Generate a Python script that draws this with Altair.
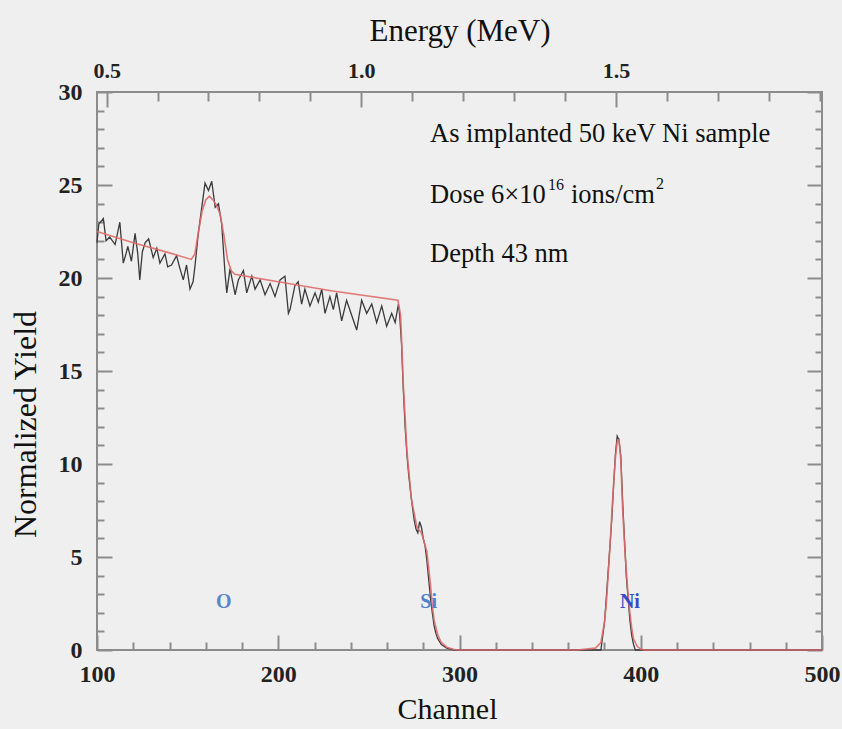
import altair as alt
import pandas as pd

# ---------------- data ----------------
black_ch = [100, 101, 103.5, 105, 107, 110, 112.6, 114.5, 116, 117, 119, 121, 122.5, 123.6, 125,
            126.6, 128.5, 131, 133, 134.7, 137.5, 139, 141.1, 143.9, 145.5, 147.6, 149.4, 151.3,
            153, 154, 155.9, 157.8, 159.6, 161.5, 163.3, 165.2, 167, 168.8, 170.6, 171.6, 173.4,
            176.2, 178, 180.8, 182.6, 185.4, 187.2, 190, 192.7, 195.5, 198.2, 201, 203.7, 205.6,
            206.5, 209.2, 211, 212.9, 214.7, 217.5, 220.3, 222.1, 224, 225.8, 228.5, 230.4, 232.2,
            235, 237.7, 240.5, 243.3, 246, 248.8, 251.6, 254.3, 257.1, 259.8, 262.6, 264.5, 266.3,
            267, 268, 269, 270, 271, 272, 273, 274, 275, 276, 277, 278, 279, 280, 281, 282, 283,
            284, 285, 286, 287, 288, 290, 293, 297, 320, 350, 378, 380, 381, 382, 383, 384, 385,
            386, 387, 388, 389, 390, 391, 392, 393, 394, 395, 396, 397, 420, 500]
black_y = [21.9, 22.9, 23.2, 22.0, 22.2, 21.8, 23.0, 20.8, 21.3, 21.7, 20.9, 22.4, 21.3, 19.9, 21.4,
           21.9, 22.1, 21.1, 21.6, 20.8, 21.3, 20.6, 20.7, 21.2, 20.6, 19.9, 20.7, 19.4,
           19.8, 20.6, 22.4, 23.8, 25.1, 24.7, 25.2, 23.8, 24.0, 22.9, 20.3, 19.2, 20.5,
           19.1, 19.9, 20.4, 19.2, 20.1, 19.4, 19.9, 19.1, 19.7, 19.0, 19.9, 20.1, 18.1,
           18.3, 19.6, 19.8, 18.6, 19.4, 18.5, 19.2, 18.7, 19.4, 18.1, 19.0, 18.3, 19.2,
           17.7, 18.8, 18.0, 17.2, 18.8, 18.1, 18.6, 17.6, 18.5, 17.4, 18.1, 17.6, 18.6,
           18.0, 16.5, 14.0, 12.0, 10.5, 9.4, 8.5, 7.7, 7.0, 6.5, 6.3, 6.9, 6.6, 6.0, 5.6, 4.8, 3.8,
           2.8, 2.0, 1.3, 0.9, 0.6, 0.3, 0.1, 0.0, 0.0, 0.0, 0.0, 1.5, 2.8, 4.2, 5.6, 7.0, 8.8,
           10.5, 11.5, 11.3, 10.4, 8.0, 6.0, 4.0, 2.8, 1.6, 0.8, 0.3, 0.0, 0.0, 0.0]

fit_ch = [100, 120, 140, 152, 154, 156, 158, 160, 162, 164, 166, 168, 170, 172, 174, 176, 200, 230,
          266, 267.5, 269, 271, 273.5, 276.5, 279, 282, 284, 285, 286, 288, 290, 293, 297, 300,
          365, 370, 375, 378, 380, 381, 382, 383, 384, 385, 386, 387, 388, 389, 390, 391, 392,
          393, 394, 395, 396, 398, 400, 402, 500]
fit_y = [22.5, 21.9, 21.35, 21.0, 21.3, 22.5, 23.6, 24.2, 24.4, 24.2, 23.9, 23.4, 22.3, 21.0, 20.4,
         20.2, 19.8, 19.3, 18.8, 18.0, 14.3, 10.7, 8.1, 6.6, 6.3, 5.3, 3.5, 2.4, 1.6, 0.8, 0.4,
         0.15, 0.03, 0.0, 0.0, 0.05, 0.1, 0.4, 1.5, 2.5, 4.0, 5.5, 7.3, 8.9, 10.3, 11.2, 11.3,
         10.2, 7.6, 5.8, 4.3, 3.0, 2.0, 1.2, 0.6, 0.2, 0.05, 0.0, 0.0]

elem_labels = ["O", "Si", "Ni"]
elem_ch = [170, 283, 394]
elem_y = [2.6, 2.6, 2.6]
elem_colors = ["#5b86c9", "#4f7fcf", "#3a4bc6"]

chan_domain = [100, 500]
chan_label_ticks = [100, 200, 300, 400, 500]
chan_ticks = list(range(100, 501, 20))
yield_domain = [0, 30]
yield_label_ticks = [0, 5, 10, 15, 20, 25, 30]
yield_ticks = list(range(0, 31))
energy_domain = [0.4811, 1.9047]
energy_label_ticks = [0.5, 1.0, 1.5]
energy_ticks = [0.5, 0.6, 0.7, 0.8, 0.9, 1.0, 1.1, 1.2, 1.3, 1.4, 1.5, 1.6, 1.7, 1.8, 1.9]

# ---------------- chart ----------------
W, H = 725, 558
SERIF = "Liberation Serif"
TICK = "#8c8c8c"

df_black = pd.DataFrame({"ch": black_ch, "val": black_y})
df_fit = pd.DataFrame({"ch": fit_ch, "val": fit_y})
df_elem = pd.DataFrame({"ch": elem_ch, "val": elem_y, "label": elem_labels})
df_energy = pd.DataFrame({"e": energy_ticks})

xs = alt.Scale(domain=chan_domain, nice=False, zero=False)
ys = alt.Scale(domain=yield_domain, nice=False, zero=False)
es = alt.Scale(domain=energy_domain, nice=False, zero=False)


def tick_axis(orient, offset, values, test, big, small):
    return alt.Axis(orient=orient, offset=offset, values=values, labels=False, domain=False,
                    grid=False, ticks=True, tickColor=TICK, tickWidth=2,
                    tickSize={"condition": {"test": test, "value": big}, "value": small},
                    title=None)


black = alt.Chart(df_black).mark_line(color="#3a3a3a", strokeWidth=1.3).encode(
    x=alt.X("ch:Q", scale=xs, axis=alt.Axis(
        orient="bottom", values=chan_label_ticks, format="d", ticks=False, domain=False,
        grid=False, labelFlush=False, labelFont=SERIF, labelFontSize=24,
        labelFontWeight="bold", labelColor="#222222", labelPadding=12, title="Channel",
        titleFont=SERIF, titleFontSize=30, titleFontWeight="normal", titleColor="#111111",
        titlePadding=8, titleX=350)),
    y=alt.Y("val:Q", scale=ys, axis=alt.Axis(
        orient="left", values=yield_label_ticks, format="d", ticks=False, domain=False,
        grid=False, labelFlush=False, labelFont=SERIF, labelFontSize=24,
        labelFontWeight="bold", labelColor="#222222", labelPadding=15,
        title="Normalized Yield", titleFont=SERIF, titleFontSize=32, titleFontWeight="normal",
        titleColor="#111111", titlePadding=16, titleY=332)),
)

fit = alt.Chart(df_fit).mark_line(color="#e06a6a", strokeWidth=1.6, opacity=0.9).encode(
    x=alt.X("ch:Q", scale=xs,
            axis=tick_axis("top", -H, chan_ticks, "datum.value % 100 === 0", 15, 8)),
    y=alt.Y("val:Q", scale=ys,
            axis=tick_axis("right", -W, yield_ticks, "datum.value % 5 === 0", 15, 7)),
)

elem = alt.Chart(df_elem).mark_text(font=SERIF, fontSize=20, fontWeight="bold",
                                    baseline="middle").encode(
    x=alt.X("ch:Q", scale=xs, axis=None),
    y=alt.Y("val:Q", scale=ys,
            axis=tick_axis("left", -W, yield_ticks, "datum.value % 5 === 0", 15, 7)),
    text="label:N",
    color=alt.Color("label:N", scale=alt.Scale(domain=elem_labels, range=elem_colors),
                    legend=None),
)

en_labels = alt.Chart(df_energy).mark_point(opacity=0).encode(
    x=alt.X("e:Q", scale=es, axis=alt.Axis(
        orient="top", values=energy_label_ticks, format=".1f", ticks=False, domain=False,
        grid=False, labelFlush=False, labelFont=SERIF, labelFontSize=22,
        labelFontWeight="bold", labelColor="#222222", labelPadding=10, title="Energy (MeV)",
        titleFont=SERIF, titleFontSize=31, titleFontWeight="normal", titleColor="#111111",
        titlePadding=12)),
)

en_ticks = alt.Chart(df_energy).mark_point(opacity=0).encode(
    x=alt.X("e:Q", scale=es,
            axis=tick_axis("bottom", -H, energy_ticks,
                           "abs(round(datum.value * 10) % 5) === 0", 15, 9)),
)

one = pd.DataFrame({"k": [0]})


def note(text, x, y, size):
    return alt.Chart(one).mark_text(font=SERIF, fontSize=size, color="#111111", align="left",
                                    baseline="alphabetic").encode(
        x=alt.value(x), y=alt.value(y), text=alt.value(text))


notes = [
    note("As implanted 50 keV Ni sample", 333, 50, 26.5),
    note("Dose 6×10", 333, 111, 26.5),
    note("16", 451, 98, 16),
    note("ions/cm", 474, 111, 26.5),
    note("2", 559, 97, 16),
    note("Depth 43 nm", 333, 170, 26.5),
]

chart = alt.layer(black, fit, elem, en_labels, en_ticks, *notes).resolve_scale(
    x="independent", y="shared"
).resolve_axis(
    x="independent", y="independent"
).properties(
    width=W, height=H,
    autosize=alt.AutoSizeParams(type="none"),
    padding={"left": 97, "top": 92, "right": 20, "bottom": 79},
).configure(
    background="#efefef"
).configure_view(
    stroke=TICK, strokeWidth=2
)

chart.save("out.html", embed_options={"renderer": "svg", "actions": False})
